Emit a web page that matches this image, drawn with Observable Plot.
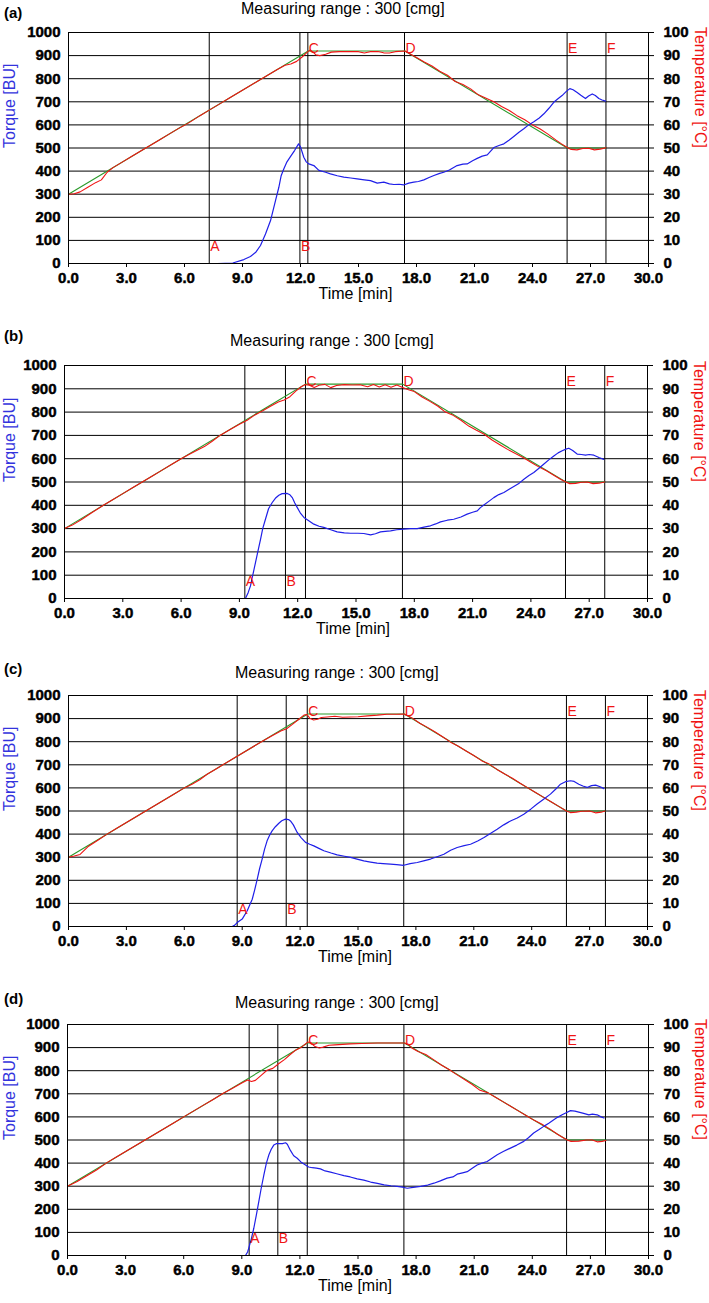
<!DOCTYPE html>
<html><head><meta charset="utf-8">
<script src="https://cdn.jsdelivr.net/npm/d3@7"></script>
<script src="https://cdn.jsdelivr.net/npm/@observablehq/plot@0.6"></script>
<style>
html,body{margin:0;padding:0;background:#fff;}
#wrap{position:relative;width:709px;height:1303px;font-family:"Liberation Sans",Arial,sans-serif;overflow:hidden;}
.abs{position:absolute;}
.tag{font-weight:bold;font-size:15px;line-height:15px;}
.ttl{font-size:16px;line-height:16px;white-space:nowrap;}
svg text.tickbold{font-weight:bold !important;font-family:"Liberation Sans",Arial,sans-serif !important;stroke:#000 !important;stroke-width:0.45px !important;fill:#000 !important;}
</style></head>
<body><div id="wrap"></div>
<script>
// ---------------- data ----------------
const panelTags = ["(a)", "(b)", "(c)", "(d)"];
const panelTitle = "Measuring range : 300 [cmg]";
const eventLabels = ["A", "B", "C", "D", "E", "F"];
const xTicks = [0, 3, 6, 9, 12, 15, 18, 21, 24, 27, 30];
const torqueTicks = [0, 100, 200, 300, 400, 500, 600, 700, 800, 900, 1000];
const tempTicks = [0, 10, 20, 30, 40, 50, 60, 70, 80, 90, 100];

const eventsA = [7.28, 11.97, 12.38, 17.38, 25.79, 27.8];
const eventsB = [9.28, 11.37, 12.4, 17.39, 25.78, 27.8];
const eventsC = [8.74, 11.28, 12.37, 17.37, 25.8, 27.82];
const eventsD = [9.38, 10.86, 12.38, 17.37, 25.77, 27.78];

// target temperature profile (green), [min, °C]
const targetTemp = [[0,30],[12.4,92],[17.4,92],[25.8,50],[27.8,50]];

// measured temperature (red), [min, °C]
const tempA = [[0,30],[0.3,30.2],[0.6,31],[1.0,33],[1.4,35],[1.7,36.2],[2.0,39.5],[2.3,41.5],[2.8,44],[3.3,46.5],[3.8,49],[4.2,51],[4.7,53.5],[5.2,56],[5.7,58.5],[6.0,59.8],[6.3,61.3],[6.8,64],[7.3,66.5],[7.8,69],[8.3,71.5],[8.8,74],[9.3,76.5],[9.8,79],[10.3,81.5],[10.8,84],[11.2,85.8],[11.5,86.4],[11.8,87.5],[12.1,89.5],[12.35,91.5],[12.5,92.4],[12.65,91.5],[12.8,90.3],[13.0,90],[13.3,90.6],[13.6,91.5],[14.0,91.7],[14.5,91.8],[15.0,91.7],[15.3,91.1],[15.6,91.7],[16.0,91.8],[16.3,91.2],[16.6,91.1],[16.9,91.7],[17.4,92],[17.7,90.6],[18.0,89.2],[18.4,87.2],[18.8,85.5],[19.2,83.2],[19.6,81.5],[20.0,78.8],[20.4,77.5],[20.8,75.6],[21.2,73],[21.6,71.5],[22.0,70],[22.4,68],[22.8,66.2],[23.2,64],[23.6,62.2],[24.0,60],[24.4,58.2],[24.8,56],[25.2,53.5],[25.5,51.8],[25.8,50.2],[26.0,49.4],[26.3,49.2],[26.6,49.8],[26.9,49.9],[27.2,49.2],[27.5,49.5],[27.8,50.1]];
const tempB = [[0,30],[0.4,31.5],[0.9,34],[1.4,36.8],[2.0,40],[2.5,42.5],[3.0,45],[3.5,47.5],[4.0,50],[4.5,52.5],[5.0,55],[5.5,57.5],[6.0,60],[6.4,61.8],[6.8,63.5],[7.2,65.2],[7.6,67.5],[8.0,70],[8.5,72.4],[9.0,74.8],[9.4,76.5],[9.8,78.8],[10.2,80.6],[10.6,82.5],[11.0,84.3],[11.3,85.2],[11.6,86.6],[11.9,89],[12.2,91],[12.4,91.8],[12.6,91.5],[12.85,90.6],[13.1,91.5],[13.4,91.9],[13.7,90.5],[14.0,91.4],[14.4,91.8],[14.8,91.6],[15.2,91.7],[15.6,90.9],[15.9,91.8],[16.2,90.8],[16.5,91.7],[16.8,90.7],[17.1,91.6],[17.4,90.6],[17.7,89.6],[18.0,88.8],[18.4,86.5],[18.8,84.6],[19.2,82.6],[19.6,80],[20.0,78.6],[20.4,76.5],[20.8,74],[21.2,72.2],[21.6,70.5],[22.0,68],[22.4,66],[22.8,64],[23.2,62.2],[23.6,60.5],[24.0,58.5],[24.4,56.5],[24.8,54.8],[25.2,52.8],[25.5,51.3],[25.8,50],[26.0,49.3],[26.3,49.4],[26.6,49.9],[26.9,50],[27.2,49.3],[27.5,49.5],[27.8,50]];
const tempC = [[0,30],[0.3,30.5],[0.6,31.2],[1.0,34.5],[1.5,37.2],[2.0,40],[2.5,42.5],[3.0,45],[3.5,47.5],[4.0,50],[4.5,52.5],[5.0,55],[5.5,57.5],[6.0,60],[6.4,61.6],[6.8,63.5],[7.2,66],[7.6,68],[8.0,70],[8.5,72.5],[9.0,75],[9.5,77.5],[10.0,80],[10.5,82.4],[11.0,84.6],[11.3,85.6],[11.6,87.5],[11.9,89.5],[12.2,91.5],[12.35,91.8],[12.5,90.2],[12.7,89.4],[12.9,89.7],[13.1,90.5],[13.4,90.7],[13.8,91],[14.2,90.6],[14.6,90.7],[15.0,90.8],[15.5,91.2],[16.0,91.5],[16.5,91.9],[17.0,91.9],[17.4,92],[17.8,90.3],[18.2,88],[18.6,86.2],[19.0,84.2],[19.4,82],[19.8,79.8],[20.2,78],[20.6,76],[21.0,74],[21.4,71.8],[21.8,70.3],[22.2,68],[22.6,66],[23.0,64.2],[23.4,62],[23.8,60],[24.2,58],[24.6,56],[25.0,54],[25.4,52],[25.8,50],[26.0,49.3],[26.3,49.5],[26.6,49.9],[27.0,50],[27.3,49.2],[27.6,49.5],[27.8,50]];
const tempD = [[0,30],[0.5,32],[1.0,34.5],[1.5,37],[2.0,40],[2.5,42.5],[3.0,45],[3.5,47.5],[4.0,50],[4.5,52.5],[5.0,55],[5.5,57.5],[6.0,60],[6.5,62.5],[7.0,65],[7.5,67.4],[8.0,70],[8.5,72.3],[9.0,74.7],[9.3,76],[9.5,75.3],[9.7,75.8],[10.0,78],[10.3,80.2],[10.6,81],[10.9,83],[11.2,84.8],[11.5,87],[11.8,89],[12.1,90.3],[12.4,92.4],[12.55,92.2],[12.75,90.6],[13.0,89.8],[13.2,90.2],[13.5,91],[13.8,91.2],[14.2,91.4],[14.6,91.6],[15.2,91.8],[16.0,92],[17.0,92],[17.4,92],[17.6,91.4],[17.8,89.7],[18.1,88.3],[18.5,87],[18.9,84.8],[19.3,82.5],[19.7,80.5],[20.1,78.3],[20.5,76.2],[20.9,74],[21.3,71.5],[21.7,70.5],[22.1,68.5],[22.5,66.5],[22.9,64.5],[23.3,62.5],[23.7,60.5],[24.1,58.5],[24.5,56.8],[24.9,54.8],[25.3,52.5],[25.6,51],[25.8,50],[26.0,49.4],[26.4,49.5],[26.8,50],[27.1,50],[27.35,49.2],[27.6,49.4],[27.8,49.8]];

// torque (blue), [min, BU]
const torqueA = [[7.7,0],[8.5,2],[9.07,17],[9.41,30],[9.7,50],[9.93,78],[10.19,128],[10.45,186],[10.71,273],[10.88,330],[11.0,380],[11.14,410],[11.3,440],[11.48,463],[11.7,490],[11.9,518],[12.0,505],[12.17,460],[12.3,440],[12.43,431],[12.69,424],[12.95,403],[13.3,395],[13.55,388],[13.9,380],[14.24,374],[14.6,370],[14.93,366],[15.3,362],[15.62,359],[15.97,348],[16.31,352],[16.6,345],[16.83,342],[17.1,343],[17.34,340],[17.6,348],[17.86,352],[18.1,355],[18.38,362],[18.65,372],[18.9,381],[19.2,390],[19.41,395],[19.7,405],[20.1,424],[20.4,430],[20.62,431],[20.9,445],[21.14,455],[21.4,465],[21.66,470],[22.0,502],[22.3,512],[22.52,518],[22.8,535],[23.03,550],[23.3,568],[23.55,583],[23.8,600],[24.07,614],[24.35,630],[24.59,648],[24.85,672],[25.1,698],[25.3,712],[25.53,727],[25.75,745],[25.93,757],[26.1,752],[26.31,740],[26.5,728],[26.74,714],[26.9,725],[27.09,734],[27.25,727],[27.43,714],[27.6,708],[27.78,703]];
const torqueB = [[9.31,0],[9.45,25],[9.57,54],[9.7,105],[9.83,155],[9.96,205],[10.09,255],[10.2,300],[10.34,340],[10.5,385],[10.69,412],[10.85,430],[11.03,443],[11.2,450],[11.46,451],[11.6,445],[11.72,433],[11.85,410],[11.98,390],[12.15,365],[12.32,348],[12.55,335],[12.83,319],[13.1,310],[13.34,305],[13.7,295],[14.03,286],[14.4,282],[14.72,280],[15.1,280],[15.4,279],[15.75,273],[16.0,278],[16.26,286],[16.5,288],[16.78,290],[17.1,295],[17.46,298],[17.8,300],[18.15,300],[18.5,306],[18.83,312],[19.1,320],[19.35,329],[19.7,336],[20.03,340],[20.4,350],[20.72,362],[21.0,370],[21.24,376],[21.4,390],[21.58,401],[21.85,418],[22.09,433],[22.35,446],[22.61,455],[22.9,470],[23.12,481],[23.4,495],[23.64,512],[23.9,528],[24.15,541],[24.4,558],[24.67,577],[24.95,597],[25.18,612],[25.4,625],[25.61,634],[25.8,641],[25.95,645],[26.15,635],[26.38,620],[26.6,618],[26.81,615],[27.0,618],[27.24,615],[27.5,605],[27.75,597]];
const torqueC = [[0,0],[8.48,0],[8.6,5],[8.74,17],[9.0,32],[9.26,68],[9.52,118],[9.65,160],[9.78,205],[9.9,250],[10.03,291],[10.16,335],[10.29,371],[10.42,395],[10.55,414],[10.72,432],[10.9,447],[11.05,458],[11.24,465],[11.4,463],[11.5,457],[11.65,440],[11.85,407],[12.05,385],[12.28,364],[12.5,356],[12.71,349],[13.0,337],[13.23,328],[13.6,318],[13.92,310],[14.3,304],[14.61,299],[14.95,292],[15.3,284],[15.65,279],[15.99,274],[16.3,272],[16.68,270],[17.0,268],[17.37,265],[17.7,272],[18.07,277],[18.4,284],[18.76,292],[19.1,302],[19.45,313],[19.8,330],[20.14,342],[20.5,350],[20.83,356],[21.2,370],[21.53,385],[21.9,405],[22.21,421],[22.55,440],[22.9,457],[23.25,470],[23.59,486],[23.95,508],[24.28,530],[24.6,550],[24.97,573],[25.25,595],[25.49,616],[25.75,627],[26.01,631],[26.2,628],[26.44,616],[26.65,608],[26.87,602],[27.1,610],[27.31,612],[27.55,605],[27.74,597]];
const torqueD = [[0,0],[9.19,0],[9.3,15],[9.36,32],[9.5,75],[9.62,118],[9.75,175],[9.88,234],[10.0,290],[10.14,349],[10.27,400],[10.4,436],[10.52,460],[10.65,478],[10.78,484],[10.91,484],[11.1,484],[11.26,488],[11.35,482],[11.51,455],[11.68,432],[11.86,421],[12.05,405],[12.29,392],[12.45,383],[12.64,380],[12.85,378],[13.06,375],[13.3,366],[13.58,361],[13.9,354],[14.27,346],[14.6,340],[14.96,332],[15.3,326],[15.65,318],[16.0,312],[16.35,306],[16.7,302],[17.02,299],[17.3,296],[17.54,291],[17.85,295],[18.23,299],[18.6,305],[18.92,313],[19.25,323],[19.6,335],[19.9,340],[20.12,352],[20.4,358],[20.64,363],[20.9,378],[21.15,392],[21.4,400],[21.67,407],[21.9,420],[22.19,436],[22.5,450],[22.87,465],[23.2,478],[23.56,494],[23.8,510],[24.07,530],[24.35,545],[24.59,559],[24.85,573],[25.11,588],[25.3,598],[25.54,609],[25.75,618],[25.97,627],[26.2,625],[26.4,621],[26.65,615],[26.92,609],[27.1,612],[27.35,609],[27.55,600],[27.7,595]];

// ---------------- layout ----------------
const layout = [
  {tagTop: 5,   titleTop: 1,   titleLeft: 241, plotTop: 32,   innerH: 231, left: 68, right: 648},
  {tagTop: 328, titleTop: 333, titleLeft: 230, plotTop: 365,  innerH: 233, left: 64, right: 647},
  {tagTop: 661, titleTop: 665, titleLeft: 235, plotTop: 695,  innerH: 231, left: 68, right: 647},
  {tagTop: 991, titleTop: 995, titleLeft: 235, plotTop: 1024, innerH: 231, left: 67, right: 648}
];
const series = [
  {events: eventsA, temp: tempA, torque: torqueA},
  {events: eventsB, temp: tempB, torque: torqueB},
  {events: eventsC, temp: tempC, torque: torqueC},
  {events: eventsD, temp: tempD, torque: torqueD}
];

const W = 709, MT = 10, MB = 45;
const FONT = "'Liberation Sans', Arial, sans-serif";
const NARROW = "'Liberation Sans Narrow', 'Arial Narrow', 'Liberation Sans', sans-serif";
const BLUE = "#1f1fe8", BLUE_LABEL = "#3333dd", RED = "#f01414", GREEN = "#2a9a2a";
const wrap = document.getElementById("wrap");

layout.forEach((L, i) => {
  const S = series[i];
  const ev = S.events.map((t, k) => ({t, label: eventLabels[k]}));

  const tag = document.createElement("div");
  tag.className = "abs tag"; tag.style.left = "4px"; tag.style.top = L.tagTop + "px";
  tag.textContent = panelTags[i];
  wrap.appendChild(tag);

  const ttl = document.createElement("div");
  ttl.className = "abs ttl"; ttl.style.left = L.titleLeft + "px"; ttl.style.top = L.titleTop + "px";
  ttl.textContent = panelTitle;
  wrap.appendChild(ttl);

  const svg = Plot.plot({
    width: W,
    height: MT + L.innerH + MB,
    marginTop: MT, marginBottom: MB,
    marginLeft: L.left, marginRight: W - L.right,
    x: {domain: [0, 30]},
    y: {domain: [0, 1000]},
    style: {fontFamily: FONT, fontSize: "15px", color: "black", background: "transparent", overflow: "visible"},
    marks: [
      Plot.gridY({ticks: torqueTicks, stroke: "black", strokeOpacity: 1, strokeWidth: 1}),
      Plot.ruleX(ev, {x: "t", stroke: "black", strokeWidth: 1}),
      Plot.axisY({ticks: torqueTicks, anchor: "left", tickSize: 0, tickPadding: 8, label: null,
        tickFormat: d => String(d)}),
      Plot.axisY({ticks: tempTicks.map(d => d * 10), anchor: "right", tickSize: 5, tickPadding: 10,
        tickFormat: d => String(d / 10), label: null}),
      Plot.axisX({ticks: xTicks, anchor: "bottom", tickSize: 4, tickPadding: 5,
        tickFormat: d => d.toFixed(1), label: null}),
      Plot.line(targetTemp, {x: d => d[0], y: d => d[1] * 10, stroke: GREEN, strokeWidth: 1.1}),
      Plot.line(S.temp, {x: d => d[0], y: d => d[1] * 10, stroke: RED, strokeWidth: 1.1}),
      Plot.line(S.torque, {x: d => d[0], y: d => d[1], stroke: BLUE, strokeWidth: 1.2}),
      Plot.text(ev.slice(0, 2), {x: "t", text: "label", frameAnchor: "bottom", dy: -13, dx: 1,
        textAnchor: "start", fill: RED, fontSize: 14, fontFamily: NARROW}),
      Plot.text(ev.slice(2), {x: "t", text: "label", frameAnchor: "top", dy: 11, dx: 1,
        textAnchor: "start", fill: RED, fontSize: 14, fontFamily: NARROW}),
      Plot.frame({stroke: "black", strokeWidth: 1}),
      Plot.text(["Torque [BU]"], {text: d => d, frameAnchor: "left", dx: 9 - L.left, rotate: -90,
        fill: BLUE_LABEL, fontSize: 16}),
      Plot.text(["Temperature [°C]"], {text: d => d, frameAnchor: "right", dx: 52, rotate: 90,
        fill: RED, fontSize: 16}),
      Plot.text(["Time [min]"], {text: d => d, frameAnchor: "bottom", dy: 35, dx: -3, fontSize: 16})
    ]
  });
  // heavy bold tick labels (numeric text only), as in the reference
  svg.querySelectorAll("text").forEach(t => {
    if (/^[0-9.]+$/.test(t.textContent.trim())) {
      t.classList.add("tickbold");
      t.setAttribute("font-weight", "bold");
    }
  });

  const holder = document.createElement("div");
  holder.className = "abs";
  holder.style.left = "0px";
  holder.style.top = (L.plotTop - MT) + "px";
  holder.appendChild(svg);
  wrap.appendChild(holder);
});
</script>
</body></html>
